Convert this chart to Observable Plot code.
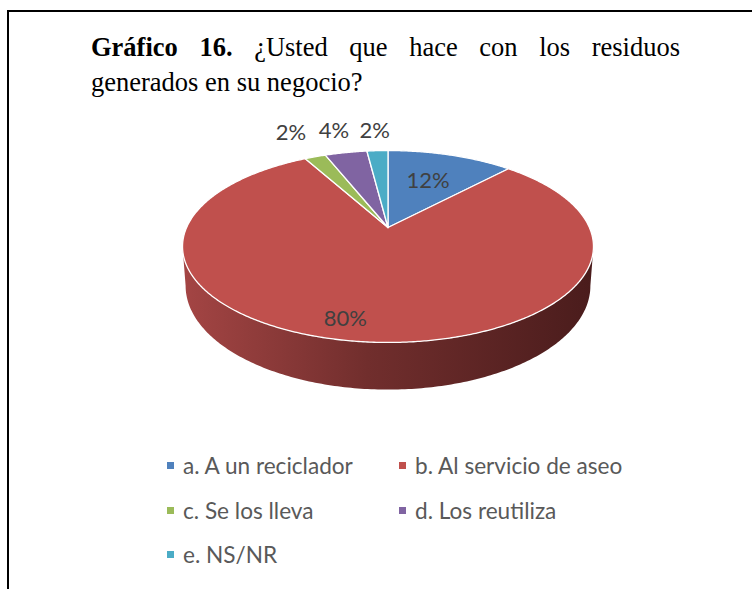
<!DOCTYPE html>
<html><head><meta charset="utf-8">
<script src="https://cdn.jsdelivr.net/npm/d3@7"></script>
<script src="https://cdn.jsdelivr.net/npm/@observablehq/plot@0.6"></script>
<style>
html,body{margin:0;padding:0;background:#fff;}
body{width:752px;height:589px;position:relative;overflow:hidden;}
#frame{position:absolute;left:7px;top:10px;width:780px;height:620px;border-top:2px solid #000;border-left:2px solid #000;}
#title{position:absolute;left:91px;top:29.5px;width:589px;font-family:"Liberation Serif","Times New Roman",serif;font-size:26.5px;line-height:35px;color:#000;}
#title .l1{text-align:justify;text-align-last:justify;white-space:nowrap;}
#chart{position:absolute;left:0;top:110px;}
#legend{position:absolute;left:167px;top:444px;display:grid;grid-template-columns:232px auto;grid-auto-rows:44.5px;font-family:Lato,sans-serif;font-size:22.6px;line-height:44.5px;color:#595959;white-space:nowrap;}
.sw{display:inline-block;width:7px;height:7px;margin-right:9px;vertical-align:5px;}
</style></head>
<body>
<div id="frame"></div>
<div id="title"><div class="l1"><b>Gráfico 16.</b> ¿Usted que hace con los residuos</div><div>generados en su negocio?</div></div>
<div id="chart"></div>
<div id="legend"></div>
<script>
// ---- data ----
const categories = ["a. A un reciclador", "b. Al servicio de aseo", "c. Se los lleva", "d. Los reutiliza", "e. NS/NR"];
const values = [12, 80, 2, 4, 2];
const valueLabels = ["12%", "80%", "2%", "4%", "2%"];
const colors = ["#4F81BD", "#C0504D", "#9BBB59", "#8064A2", "#4BACC6"];
const labelRadius = [0.6, 0.845, 1.42, 1.36, 1.32];
const labelShift = [0, 0.017, 0, 0, 0]; // angular nudge (fraction of slice) for label placement

// ---- 3D look ----
const tilt = 0.198;
const depth = 0.41;
const bottomScale = 0.985;
function project(phi, r = 1, h = 0, s = 1) {
  const cx = r * Math.sin(phi), d = -r * Math.cos(phi);
  const k = 1 - tilt * d;
  return {X: s * cx / k, Y: (d + h) / k};
}

const total = d3.sum(values);
const step = Math.PI / 360;
const slicePts = [];
const labelPts = [];
let acc = 0;
categories.forEach((c, i) => {
  const a0 = acc / total * 2 * Math.PI;
  acc += values[i];
  const a1 = acc / total * 2 * Math.PI;
  slicePts.push({key: c, X: 0, Y: 0});
  const n = Math.max(2, Math.ceil((a1 - a0) / step));
  for (let j = 0; j <= n; j++) {
    const p = project(a0 + (a1 - a0) * j / n);
    slicePts.push({key: c, X: p.X, Y: p.Y});
  }
  slicePts.push({key: c, X: 0, Y: 0});
  const m = project(a0 + (a1 - a0) * (0.5 + labelShift[i]), labelRadius[i]);
  labelPts.push({X: m.X, Y: m.Y, text: valueLabels[i]});
});

// side wall (front, visible between the two silhouette angles)
const sRight = Math.acos(-tilt), sLeft = 2 * Math.PI - sRight;
const sidePts = [];
const ns = 200;
for (let j = 0; j <= ns; j++) {
  sidePts.push(project(sRight + (sLeft - sRight) * j / ns));
}
for (let j = ns; j >= 0; j--) {
  sidePts.push(project(sRight + (sLeft - sRight) * j / ns, 1, depth, bottomScale));
}

const chart = Plot.plot({
  width: 752,
  height: 300,
  margin: 0,
  style: {fontFamily: "Lato, sans-serif", background: "transparent", overflow: "visible"},
  x: {domain: [-1, 1], range: [186.1, 588.9], axis: null},
  y: {domain: [-1, 1], range: [24.8, 209.2], axis: null},
  color: {domain: categories, range: colors},
  marks: [
    Plot.line(sidePts, {x: "X", y: "Y", fill: "url(#sideGrad)", stroke: "none"}),
    Plot.line(slicePts, {x: "X", y: "Y", z: "key", fill: "key", stroke: "#ffffff", strokeWidth: 1.3, strokeLinejoin: "round"}),
    Plot.text(labelPts, {x: "X", y: "Y", text: "text", fontSize: 22, fill: "#404040"})
  ]
});

const defs = d3.select(chart).insert("defs", ":first-child");
const grad = defs.append("linearGradient").attr("id", "sideGrad")
  .attr("x1", "0").attr("x2", "1").attr("y1", "0").attr("y2", "0");
[["0%", "#a44544"], ["45%", "#712e2d"], ["100%", "#4a1c1c"]].forEach(([o, c]) =>
  grad.append("stop").attr("offset", o).attr("stop-color", c));
document.getElementById("chart").appendChild(chart);

const legend = document.getElementById("legend");
categories.forEach((c, i) => {
  const item = document.createElement("div");
  const sw = document.createElement("span");
  sw.className = "sw";
  sw.style.background = colors[i];
  item.appendChild(sw);
  item.appendChild(document.createTextNode(c));
  legend.appendChild(item);
});
</script>
</body></html>
